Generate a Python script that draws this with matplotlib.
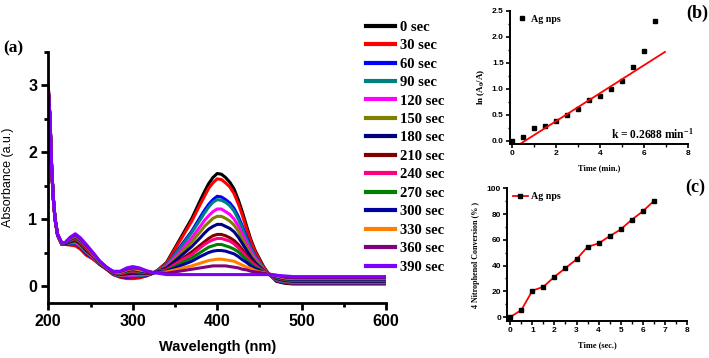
import matplotlib
matplotlib.use("Agg")
import matplotlib.pyplot as plt
from matplotlib.ticker import MultipleLocator
from matplotlib.lines import Line2D
from matplotlib.font_manager import FontProperties

plt.rcParams['font.family'] = ['Liberation Sans', 'DejaVu Sans']
plt.rcParams['font.weight'] = 'bold'
plt.rcParams['mathtext.fontset'] = 'custom'
plt.rcParams['mathtext.rm'] = 'Liberation Serif:bold'
plt.rcParams['mathtext.bf'] = 'Liberation Serif:bold'
plt.rcParams['mathtext.it'] = 'Liberation Serif:bold'

# ---------------- Panel (a): UV-vis spectra ----------------
wavelength = [200, 202, 204, 206, 208, 211, 216, 220, 226, 232, 238, 245, 253, 261, 269, 277,
              285, 293, 300, 308, 316, 324,
              330, 340, 350, 360, 370, 380, 385, 390, 395, 400, 405, 410, 415, 420, 425, 430,
              435, 440, 445, 450, 455, 460,
              470, 480, 490, 600]

time_labels = ["0 sec", "30 sec", "60 sec", "90 sec", "120 sec", "150 sec", "180 sec",
               "210 sec", "240 sec", "270 sec", "300 sec", "330 sec", "360 sec", "390 sec"]
line_colors = ["#000000", "#FF0000", "#0000FF", "#008080", "#FF00FF", "#808000", "#000080",
               "#800000", "#FF0080", "#008000", "#0000A0", "#FF8000", "#800080", "#8000FF"]

abs_0 = [2.93, 2.50, 1.75, 1.30, 1.00, 0.76, 0.62, 0.62, 0.62, 0.61, 0.56, 0.47, 0.41, 0.32, 0.25, 0.17,
         0.14, 0.12, 0.12, 0.13, 0.15, 0.19,
         0.24, 0.35, 0.57, 0.79, 1.01, 1.28, 1.41, 1.53, 1.62, 1.68, 1.67, 1.62, 1.55, 1.45, 1.29, 1.10,
         0.89, 0.69, 0.53, 0.41, 0.29, 0.20,
         0.07, 0.04, 0.03, 0.03]
abs_30 = [2.90, 2.50, 1.75, 1.30, 1.00, 0.76, 0.62, 0.62, 0.61, 0.60, 0.55, 0.46, 0.40, 0.32, 0.25, 0.17,
          0.13, 0.11, 0.11, 0.12, 0.15, 0.19,
          0.24, 0.34, 0.55, 0.76, 0.97, 1.22, 1.34, 1.46, 1.54, 1.60, 1.59, 1.54, 1.48, 1.38, 1.23, 1.05,
          0.85, 0.66, 0.51, 0.39, 0.28, 0.19,
          0.08, 0.05, 0.04, 0.04]
abs_60 = [2.95, 2.50, 1.75, 1.30, 1.00, 0.76, 0.62, 0.62, 0.63, 0.63, 0.58, 0.48, 0.42, 0.33, 0.26, 0.18,
          0.14, 0.13, 0.14, 0.14, 0.16, 0.19,
          0.23, 0.31, 0.48, 0.65, 0.82, 1.03, 1.13, 1.22, 1.29, 1.34, 1.33, 1.29, 1.24, 1.16, 1.04, 0.89,
          0.73, 0.57, 0.45, 0.35, 0.26, 0.19,
          0.085, 0.055, 0.045, 0.045]
abs_90 = [2.92, 2.50, 1.75, 1.30, 1.00, 0.76, 0.62, 0.63, 0.64, 0.64, 0.59, 0.50, 0.42, 0.33, 0.26, 0.18,
          0.15, 0.15, 0.15, 0.15, 0.17, 0.19,
          0.23, 0.31, 0.47, 0.63, 0.80, 0.99, 1.09, 1.18, 1.25, 1.29, 1.28, 1.25, 1.20, 1.12, 1.00, 0.86,
          0.70, 0.56, 0.44, 0.35, 0.26, 0.19,
          0.09, 0.06, 0.05, 0.05]
abs_120 = [2.97, 2.50, 1.75, 1.30, 1.00, 0.76, 0.63, 0.63, 0.65, 0.65, 0.60, 0.51, 0.43, 0.34, 0.26, 0.19,
           0.16, 0.16, 0.16, 0.17, 0.17, 0.19,
           0.23, 0.29, 0.43, 0.57, 0.72, 0.89, 0.98, 1.05, 1.11, 1.15, 1.15, 1.11, 1.07, 1.00, 0.90, 0.77,
           0.64, 0.51, 0.41, 0.33, 0.25, 0.19,
           0.10, 0.07, 0.06, 0.06]
abs_150 = [2.90, 2.50, 1.75, 1.30, 1.00, 0.76, 0.63, 0.63, 0.65, 0.67, 0.61, 0.52, 0.44, 0.34, 0.26, 0.19,
           0.16, 0.17, 0.18, 0.18, 0.18, 0.19,
           0.23, 0.28, 0.40, 0.53, 0.66, 0.81, 0.89, 0.95, 1.01, 1.04, 1.04, 1.01, 0.97, 0.91, 0.82, 0.70,
           0.58, 0.47, 0.38, 0.31, 0.24, 0.19,
           0.105, 0.075, 0.065, 0.065]
abs_180 = [2.92, 2.50, 1.75, 1.30, 1.00, 0.76, 0.63, 0.63, 0.66, 0.68, 0.63, 0.53, 0.45, 0.34, 0.26, 0.19,
           0.17, 0.18, 0.19, 0.19, 0.19, 0.19,
           0.22, 0.27, 0.37, 0.48, 0.59, 0.72, 0.79, 0.85, 0.89, 0.92, 0.92, 0.89, 0.86, 0.81, 0.73, 0.63,
           0.53, 0.43, 0.35, 0.29, 0.23, 0.19,
           0.11, 0.08, 0.07, 0.07]
abs_210 = [2.95, 2.50, 1.75, 1.30, 1.00, 0.76, 0.63, 0.64, 0.67, 0.69, 0.64, 0.54, 0.45, 0.35, 0.27, 0.20,
           0.18, 0.19, 0.20, 0.20, 0.19, 0.20,
           0.22, 0.25, 0.33, 0.42, 0.51, 0.61, 0.66, 0.71, 0.75, 0.77, 0.77, 0.75, 0.72, 0.68, 0.62, 0.54,
           0.46, 0.38, 0.32, 0.27, 0.22, 0.19,
           0.12, 0.09, 0.08, 0.08]
abs_240 = [3.00, 2.50, 1.75, 1.30, 1.00, 0.77, 0.63, 0.64, 0.68, 0.71, 0.65, 0.56, 0.46, 0.35, 0.27, 0.20,
           0.18, 0.21, 0.22, 0.21, 0.20, 0.20,
           0.22, 0.24, 0.32, 0.40, 0.47, 0.57, 0.62, 0.66, 0.69, 0.71, 0.71, 0.69, 0.67, 0.63, 0.57, 0.50,
           0.43, 0.36, 0.31, 0.26, 0.22, 0.19,
           0.125, 0.095, 0.085, 0.085]
abs_270 = [2.93, 2.50, 1.75, 1.30, 1.00, 0.77, 0.63, 0.64, 0.69, 0.72, 0.66, 0.57, 0.47, 0.35, 0.27, 0.20,
           0.19, 0.22, 0.23, 0.22, 0.20, 0.20,
           0.21, 0.23, 0.29, 0.36, 0.42, 0.50, 0.54, 0.58, 0.60, 0.62, 0.62, 0.60, 0.58, 0.55, 0.51, 0.45,
           0.39, 0.33, 0.28, 0.25, 0.21, 0.18,
           0.13, 0.10, 0.09, 0.09]
abs_300 = [2.92, 2.50, 1.75, 1.30, 1.00, 0.77, 0.64, 0.64, 0.70, 0.74, 0.68, 0.58, 0.48, 0.36, 0.27, 0.21,
           0.20, 0.23, 0.25, 0.23, 0.21, 0.20,
           0.21, 0.22, 0.27, 0.32, 0.37, 0.44, 0.47, 0.50, 0.52, 0.53, 0.53, 0.52, 0.50, 0.48, 0.44, 0.39,
           0.35, 0.30, 0.26, 0.23, 0.20, 0.18,
           0.14, 0.11, 0.10, 0.10]
abs_330 = [2.88, 2.50, 1.75, 1.30, 1.00, 0.77, 0.64, 0.65, 0.71, 0.75, 0.69, 0.59, 0.48, 0.36, 0.27, 0.21,
           0.20, 0.24, 0.26, 0.24, 0.22, 0.20,
           0.20, 0.21, 0.24, 0.27, 0.30, 0.34, 0.36, 0.38, 0.39, 0.40, 0.40, 0.39, 0.38, 0.37, 0.34, 0.31,
           0.28, 0.26, 0.23, 0.21, 0.20, 0.18,
           0.15, 0.12, 0.11, 0.11]
abs_360 = [2.95, 2.50, 1.75, 1.30, 1.00, 0.77, 0.64, 0.65, 0.72, 0.76, 0.70, 0.60, 0.49, 0.37, 0.28, 0.21,
           0.21, 0.25, 0.27, 0.26, 0.22, 0.20,
           0.20, 0.19, 0.21, 0.23, 0.25, 0.27, 0.28, 0.29, 0.30, 0.30, 0.30, 0.30, 0.29, 0.28, 0.27, 0.25,
           0.24, 0.22, 0.21, 0.20, 0.19, 0.18,
           0.16, 0.13, 0.12, 0.12]
abs_390 = [2.96, 2.50, 1.75, 1.30, 1.00, 0.77, 0.64, 0.65, 0.73, 0.78, 0.72, 0.62, 0.50, 0.37, 0.28, 0.22,
           0.22, 0.27, 0.29, 0.27, 0.23, 0.20,
           0.19, 0.17, 0.17, 0.17, 0.17, 0.17, 0.17, 0.17, 0.17, 0.17, 0.17, 0.17, 0.17, 0.17, 0.17, 0.17,
           0.17, 0.17, 0.17, 0.17, 0.17, 0.17,
           0.16, 0.15, 0.14, 0.14]

spectra = [abs_0, abs_30, abs_60, abs_90, abs_120, abs_150, abs_180, abs_210, abs_240,
           abs_270, abs_300, abs_330, abs_360, abs_390]

# ---------------- Panel (b): kinetics ----------------
time_min = [0, 0.5, 1.0, 1.5, 2.0, 2.5, 3.0, 3.5, 4.0, 4.5, 5.0, 5.5, 6.0, 6.5]
ln_ratio = [0.0, 0.06, 0.24, 0.28, 0.38, 0.49, 0.60, 0.79, 0.85, 0.99, 1.15, 1.41, 1.73, 2.30]
fit_k = 0.2688
fit_intercept = -0.161
fit_range = [0.42, 6.94]

# ---------------- Panel (c): conversion ----------------
time_sec = [0, 0.5, 1.0, 1.5, 2.0, 2.5, 3.0, 3.5, 4.0, 4.5, 5.0, 5.5, 6.0, 6.5]
conversion = [0, 5.5, 20.5, 23.5, 31.3, 38.0, 44.8, 54.5, 57.2, 62.8, 68.0, 75.5, 82.0, 90.0]

W, H = 709, 358
fig = plt.figure(figsize=(W / 100, H / 100), dpi=100)

def frac_axes(x0, y_top, x1, y_bot):
    return [x0 / W, 1 - y_bot / H, (x1 - x0) / W, (y_bot - y_top) / H]

serif_b = dict(family='Liberation Serif', weight='bold')

# ---- (a)
axA = fig.add_axes(frac_axes(48.3, 51.7, 386, 302.7))
for vals, col, lab in zip(spectra, line_colors, time_labels):
    axA.plot(wavelength, vals, color=col, lw=2.2, label=lab, solid_joinstyle='round')
axA.set_xlim(200, 600)
axA.set_ylim(-0.25, 3.5)
axA.spines['top'].set_visible(False)
axA.spines['right'].set_visible(False)
for s in ['left', 'bottom']:
    axA.spines[s].set_linewidth(2.0)
axA.xaxis.set_major_locator(MultipleLocator(100))
axA.xaxis.set_minor_locator(MultipleLocator(50))
axA.yaxis.set_major_locator(MultipleLocator(1))
axA.yaxis.set_minor_locator(MultipleLocator(0.5))
axA.tick_params(which='major', direction='out', length=5, width=2.0, labelsize=11.5, pad=3)
axA.tick_params(which='minor', direction='out', length=3, width=2.0)
axA.set_xlabel('Wavelength (nm)', fontsize=10.5, fontweight='bold', labelpad=8)
axA.set_ylabel('Absorbance (a.u.)', fontsize=9, fontweight='normal', labelpad=10)
leg = axA.legend(loc='upper left', bbox_to_anchor=(366 / W, 1 - 20.5 / H), bbox_transform=fig.transFigure,
                 frameon=False, prop=FontProperties(family='Liberation Serif', weight='bold', size=10.5),
                 handlelength=2.0, handletextpad=0.3, labelspacing=0.36, borderaxespad=0, borderpad=0)
for ln in leg.get_lines():
    ln.set_linewidth(3.0)
fig.text(3 / W, 1 - 48.5 / H, '(a)', fontsize=12.5, va='center', ha='left', **serif_b)

# ---- (b)
axB = fig.add_axes(frac_axes(510, 10.5, 688.3, 144))
axB.plot(time_min, ln_ratio, ls='none', marker='s', ms=3.2, color='black')
fit_y = [fit_k * t + fit_intercept for t in fit_range]
axB.plot(fit_range, fit_y, color='#FF0000', lw=1.3)
axB.set_xlim(-0.1, 8)
axB.set_ylim(-0.065, 2.5)
axB.spines['top'].set_visible(False)
axB.spines['right'].set_visible(False)
for s in ['left', 'bottom']:
    axB.spines[s].set_linewidth(1.4)
axB.xaxis.set_major_locator(MultipleLocator(2))
axB.xaxis.set_minor_locator(MultipleLocator(1))
axB.yaxis.set_major_locator(MultipleLocator(0.5))
axB.yaxis.set_minor_locator(MultipleLocator(0.25))
axB.tick_params(which='major', direction='out', length=3, width=1.2, labelsize=6, pad=1.5)
axB.tick_params(which='minor', direction='out', length=1.8, width=1.0)
axB.set_xlabel('Time (min.)', fontsize=6, labelpad=5, **serif_b)
axB.set_ylabel('ln (A$_{0}$/A)', fontsize=6.5, labelpad=4, **serif_b)
axB.yaxis.set_label_coords(-0.13, 0.43)
axB.legend(handles=[Line2D([], [], ls='none', marker='s', ms=3.2, color='black')], labels=['Ag nps'],
           loc='center left', bbox_to_anchor=(517.7 / W, 1 - 19 / H), bbox_transform=fig.transFigure,
           frameon=False, prop=FontProperties(family='Liberation Serif', weight='bold', size=7.2),
           handlelength=0.8, handletextpad=0.5, borderaxespad=0, borderpad=0)
fig.text(611 / W, 1 - 134 / H, 'k = 0.2688 min$^{-1}$', fontsize=8.3, va='center', ha='left', **serif_b)
fig.text(697 / W, 1 - 13 / H, '(b)', fontsize=13, va='center', ha='center', **serif_b)

# ---- (c)
axC = fig.add_axes(frac_axes(507.3, 188.3, 686.7, 321))
axC.plot(time_sec, conversion, color='#FF0000', lw=1.3, marker='s', ms=3.0,
         markerfacecolor='black', markeredgecolor='black')
axC.set_xlim(-0.14, 8)
axC.set_ylim(-3.1, 100)
axC.spines['top'].set_visible(False)
axC.spines['right'].set_visible(False)
for s in ['left', 'bottom']:
    axC.spines[s].set_linewidth(1.4)
axC.xaxis.set_major_locator(MultipleLocator(1))
axC.xaxis.set_minor_locator(MultipleLocator(0.5))
axC.yaxis.set_major_locator(MultipleLocator(20))
axC.yaxis.set_minor_locator(MultipleLocator(10))
axC.tick_params(which='major', direction='out', length=3, width=1.2, labelsize=6, pad=1.5)
axC.tick_params(which='minor', direction='out', length=1.8, width=1.0)
axC.set_xlabel('Time (sec.)', fontsize=6, labelpad=5, **serif_b)
axC.set_ylabel('4 Nitrophenol Conversion (% )', fontsize=5.8, labelpad=5, **serif_b)
axC.legend(handles=[Line2D([], [], color='#FF0000', lw=1.3, marker='s', ms=3.0,
                           markerfacecolor='black', markeredgecolor='black')], labels=['Ag nps'],
           loc='center left', bbox_to_anchor=(512.7 / W, 1 - 196.7 / H), bbox_transform=fig.transFigure,
           frameon=False, prop=FontProperties(family='Liberation Serif', weight='bold', size=7.2),
           handlelength=1.5, handletextpad=0.3, borderaxespad=0, borderpad=0)
fig.text(695 / W, 1 - 187 / H, '(c)', fontsize=13, va='center', ha='center', **serif_b)

fig.savefig('out.png', dpi=100)
